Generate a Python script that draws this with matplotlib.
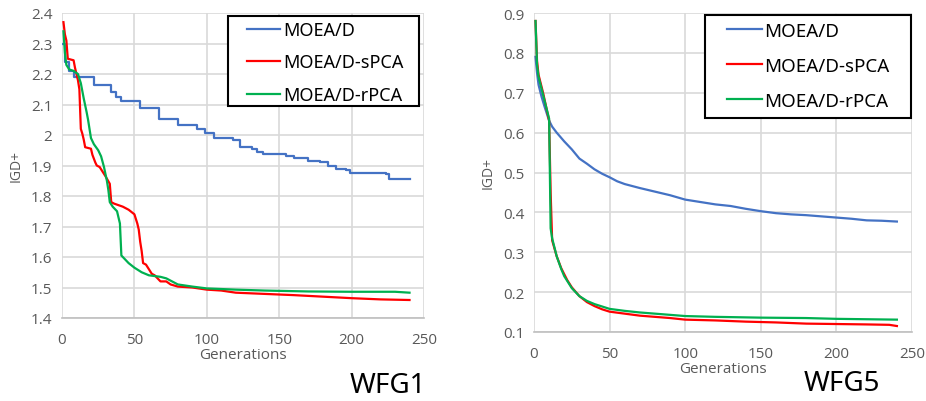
import matplotlib
matplotlib.use("Agg")
import matplotlib.pyplot as plt
from matplotlib.patches import Rectangle

# WFG1 - valeurs (génération, IGD+)
wfg1_moead_gen = [1, 2, 5, 8, 22, 34, 37, 41, 54, 67, 80, 93, 99, 105, 118, 123, 131, 135, 139,
                  155, 160, 170, 178, 184, 189, 196, 199, 224, 226, 240]
wfg1_moead_val = [2.30, 2.24, 2.21, 2.19, 2.165, 2.14, 2.125, 2.11, 2.09, 2.052, 2.032, 2.02, 2.005,
                  1.99, 1.983, 1.962, 1.955, 1.943, 1.937, 1.932, 1.925, 1.915, 1.91, 1.90, 1.888,
                  1.886, 1.876, 1.872, 1.857, 1.855]

wfg1_spca_gen = [1, 2, 3, 4, 8, 9, 11, 12, 13, 14, 15, 16, 20, 21, 23, 24, 26, 28, 30, 33, 34, 36,
                 42, 46, 50, 52, 53, 54, 55, 56, 58, 60, 62, 64, 66, 68, 72, 75, 80, 90, 100, 110,
                 120, 140, 160, 180, 200, 220, 240]
wfg1_spca_val = [2.37, 2.33, 2.31, 2.25, 2.245, 2.22, 2.18, 2.15, 2.02, 2.005, 1.985, 1.96, 1.955,
                 1.935, 1.91, 1.90, 1.895, 1.88, 1.865, 1.84, 1.78, 1.775, 1.765, 1.755, 1.74, 1.71,
                 1.69, 1.65, 1.62, 1.58, 1.575, 1.56, 1.545, 1.54, 1.53, 1.52, 1.52, 1.51, 1.503,
                 1.50, 1.493, 1.49, 1.483, 1.479, 1.475, 1.47, 1.465, 1.461, 1.459]

wfg1_rpca_gen = [1, 2, 3, 5, 8, 11, 13, 15, 17, 18, 19, 20, 22, 25, 27, 29, 31, 32, 33, 35, 38, 40,
                 41, 43, 46, 50, 55, 60, 68, 72, 76, 80, 90, 100, 110, 120, 140, 170, 200, 230, 240]
wfg1_rpca_val = [2.34, 2.27, 2.23, 2.215, 2.21, 2.20, 2.17, 2.12, 2.075, 2.05, 2.02, 1.99, 1.97,
                 1.95, 1.93, 1.895, 1.85, 1.82, 1.78, 1.765, 1.75, 1.71, 1.605, 1.595, 1.58, 1.565,
                 1.55, 1.54, 1.535, 1.53, 1.52, 1.51, 1.503, 1.497, 1.495, 1.493, 1.49, 1.487,
                 1.486, 1.486, 1.483]

# WFG5
wfg5_moead_gen = [1, 2, 3, 5, 7, 10, 12, 15, 20, 25, 30, 35, 40, 45, 50, 55, 60, 70, 80, 90, 100,
                  110, 120, 130, 140, 150, 160, 170, 180, 190, 200, 210, 220, 230, 240]
wfg5_moead_val = [0.79, 0.75, 0.72, 0.69, 0.665, 0.63, 0.615, 0.60, 0.578, 0.558, 0.535, 0.522,
                  0.508, 0.497, 0.488, 0.478, 0.471, 0.461, 0.452, 0.443, 0.432, 0.426, 0.42,
                  0.416, 0.409, 0.403, 0.398, 0.395, 0.393, 0.39, 0.387, 0.384, 0.38, 0.379, 0.377]

wfg5_spca_gen = [1, 2, 3, 5, 6, 8, 10, 11, 12, 15, 18, 20, 22, 25, 30, 35, 40, 45, 50, 60, 70, 80,
                 90, 100, 120, 140, 160, 180, 200, 220, 235, 240]
wfg5_spca_val = [0.88, 0.78, 0.745, 0.715, 0.70, 0.665, 0.63, 0.45, 0.33, 0.29, 0.26, 0.245, 0.23,
                 0.212, 0.19, 0.175, 0.165, 0.157, 0.151, 0.146, 0.141, 0.138, 0.135, 0.131,
                 0.129, 0.126, 0.124, 0.121, 0.12, 0.119, 0.118, 0.115]

wfg5_rpca_gen = [1, 2, 3, 5, 7, 9, 10, 11, 12, 15, 18, 20, 25, 30, 35, 40, 50, 60, 70, 80, 90, 100,
                 120, 150, 180, 200, 220, 240]
wfg5_rpca_val = [0.88, 0.77, 0.74, 0.71, 0.68, 0.65, 0.635, 0.36, 0.335, 0.29, 0.258, 0.24, 0.21,
                 0.19, 0.178, 0.17, 0.158, 0.153, 0.149, 0.146, 0.143, 0.14, 0.138, 0.136, 0.135,
                 0.133, 0.132, 0.131]

labels = ["MOEA/D", "MOEA/D-sPCA", "MOEA/D-rPCA"]
colors = ["#4472C4", "#FF0000", "#00B050"]
tick_color = "#595959"
grid_color = "#D9D9D9"

W, H = 926, 402
fig = plt.figure(figsize=(W / 100, H / 100), dpi=100)
ax1 = fig.add_axes([62 / W, 1 - 319 / H, 362 / W, 305 / H])
ax2 = fig.add_axes([534 / W, 1 - 333 / H, 378 / W, 319 / H])


def style_axes(ax, ylim, yticks, ytick_labels):
    ax.set_xlim(0, 250)
    ax.set_ylim(*ylim)
    ax.set_xticks(range(0, 251, 50))
    ax.set_yticks(yticks)
    ax.set_yticklabels(ytick_labels)
    for side in ["top", "right", "left"]:
        ax.spines[side].set_visible(False)
    ax.spines["bottom"].set_color("#BFBFBF")
    ax.spines["bottom"].set_linewidth(1.2)
    ax.grid(True, color=grid_color, linewidth=1.2)
    ax.set_axisbelow(True)
    ax.tick_params(axis="y", length=0, labelsize=11, colors=tick_color, pad=7)
    ax.tick_params(axis="x", length=0, labelsize=11, colors=tick_color, pad=10)
    for lab in ax.get_xticklabels() + ax.get_yticklabels():
        lab.set_family("Open Sans")
    ax.set_xlabel("Generations", fontsize=11, color=tick_color, family="Open Sans", labelpad=0)
    ax.set_ylabel("IGD+", fontsize=10, color=tick_color, family="Open Sans", labelpad=5)


# Graphique WFG1
ax1.plot(wfg1_moead_gen, wfg1_moead_val, color=colors[0], lw=1.6, drawstyle="steps-post")
ax1.plot(wfg1_spca_gen, wfg1_spca_val, color=colors[1], lw=1.6)
ax1.plot(wfg1_rpca_gen, wfg1_rpca_val, color=colors[2], lw=1.6)
style_axes(ax1, (1.4, 2.4), [1.4 + 0.1 * i for i in range(11)],
           ["1.4", "1.5", "1.6", "1.7", "1.8", "1.9", "2", "2.1", "2.2", "2.3", "2.4"])

# Graphique WFG5
ax2.plot(wfg5_moead_gen, wfg5_moead_val, color=colors[0], lw=1.6)
ax2.plot(wfg5_spca_gen, wfg5_spca_val, color=colors[1], lw=1.6)
ax2.plot(wfg5_rpca_gen, wfg5_rpca_val, color=colors[2], lw=1.6)
style_axes(ax2, (0.1, 0.9), [0.1 + 0.1 * i for i in range(9)],
           ["0.1", "0.2", "0.3", "0.4", "0.5", "0.6", "0.7", "0.8", "0.9"])

# Légendes : cadre dessiné à part, texte sans cadre par-dessus
# (x0, y0, x1, y1) du cadre, départ du trait, haut de la 1re ligne, taille, interligne
legend_specs = [
    (ax1, (228, 17, 419, 107), 247, 22, 13, 0.8),
    (ax2, (705, 16, 911, 119), 727, 23, 13.5, 0.9),
]
for ax, box, hx, ty, fs, sp in legend_specs:
    x0, y0, x1, y1 = box
    fig.add_artist(Rectangle((x0 / W, 1 - y1 / H), (x1 - x0) / W, (y1 - y0) / H,
                             transform=fig.transFigure, facecolor="white",
                             edgecolor="black", linewidth=1.5, zorder=3))
    fig.legend(ax.get_lines(), labels, loc="upper left", bbox_to_anchor=(hx / W, 1 - ty / H),
               bbox_transform=fig.transFigure, frameon=False,
               prop={"family": "Noto Sans", "size": fs},
               handlelength=1.85, handletextpad=0.15, borderpad=0, labelspacing=sp,
               borderaxespad=0)

# Titres des problèmes
fig.text(426 / W, 1 - 386 / H, "WFG1", fontsize=20, ha="right", va="center", family="Noto Sans")
fig.text(880 / W, 1 - 384 / H, "WFG5", fontsize=20, ha="right", va="center", family="Noto Sans")

fig.savefig("out.png", dpi=100)
